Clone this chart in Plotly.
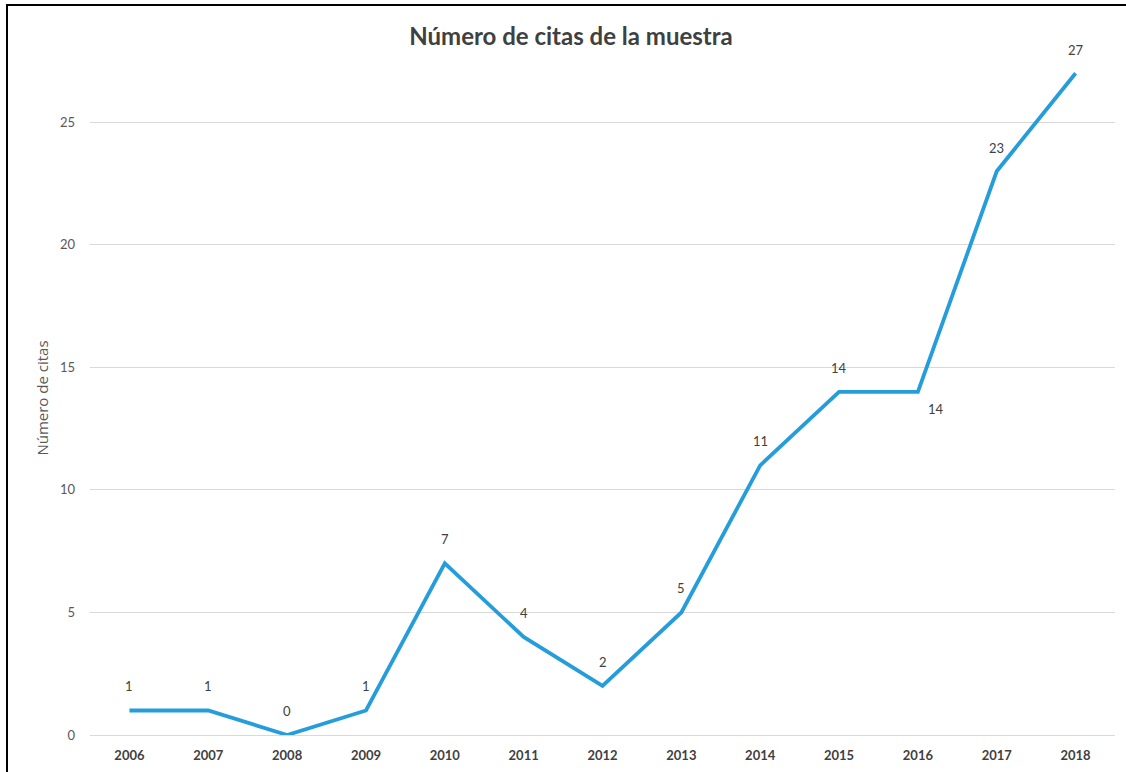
import plotly.graph_objects as go

years = ["2006", "2007", "2008", "2009", "2010", "2011", "2012",
         "2013", "2014", "2015", "2016", "2017", "2018"]
citas = [1, 1, 0, 1, 7, 4, 2, 5, 11, 14, 14, 23, 27]
# label offsets (pixels) relative to each point
label_dx = [0] * 10 + [18, 0, 0]
label_dy = [24] * 10 + [-17, 23, 23]

W, H = 1126, 772
L, R, T, B = 90, 11, 61, 37
pw, ph = W - L - R, H - T - B
FONT = "Lato, Open Sans, sans-serif"

def px_x(x):
    return (x - L) / pw

def px_y(y):
    return (H - B - y) / ph

fig = go.Figure()
fig.add_trace(go.Scatter(
    x=years, y=citas, mode="lines",
    line=dict(color="#259DDA", width=3.8),
    hoverinfo="x+y",
))

annotations = [
    dict(x=i, y=v, xref="x", yref="y", text=str(v), showarrow=False,
         xshift=dx, yshift=dy,
         font=dict(family=FONT, size=13, color="#404040"))
    for i, (v, dx, dy) in enumerate(zip(citas, label_dx, label_dy))
]

fig.update_layout(
    width=W, height=H,
    margin=dict(l=L, r=R, t=T, b=B, autoexpand=False),
    paper_bgcolor="white", plot_bgcolor="white",
    showlegend=False,
    title=dict(text="<b>Número de citas de la muestra</b>",
               x=571 / W, xref="container", xanchor="center",
               y=1 - 37 / H, yref="container", yanchor="middle",
               font=dict(family=FONT, size=24, color="#404040")),
    xaxis=dict(type="category", range=[-0.5, 12.5], autorange=False,
               showgrid=False, showline=True, linecolor="#D9D9D9",
               linewidth=1, ticks="", ticklabelstandoff=8, automargin=False,
               tickfont=dict(family=FONT, size=13, color="#404040", weight="bold")),
    yaxis=dict(range=[0, 27.5], autorange=False, dtick=5, tick0=0, showgrid=True,
               gridcolor="#D9D9D9", gridwidth=1, zeroline=False, showline=False,
               ticks="", ticklabelstandoff=14, automargin=False,
               tickfont=dict(family=FONT, size=13, color="#595959"),
               title=dict(text="Número de citas", standoff=7,
                          font=dict(family="Open Sans, sans-serif", size=15, color="#595959"))),
    annotations=annotations,
    shapes=[
        dict(type="line", xref="paper", yref="paper", x0=px_x(7), x1=px_x(7),
             y0=px_y(4), y1=px_y(H + 5), line=dict(color="black", width=2)),
        dict(type="line", xref="paper", yref="paper", x0=px_x(6), x1=px_x(W + 5),
             y0=px_y(5), y1=px_y(5), line=dict(color="black", width=2)),
    ],
)

fig.write_html("out.html", config={"displayModeBar": False},
               post_script="document.body.style.margin='0';")
